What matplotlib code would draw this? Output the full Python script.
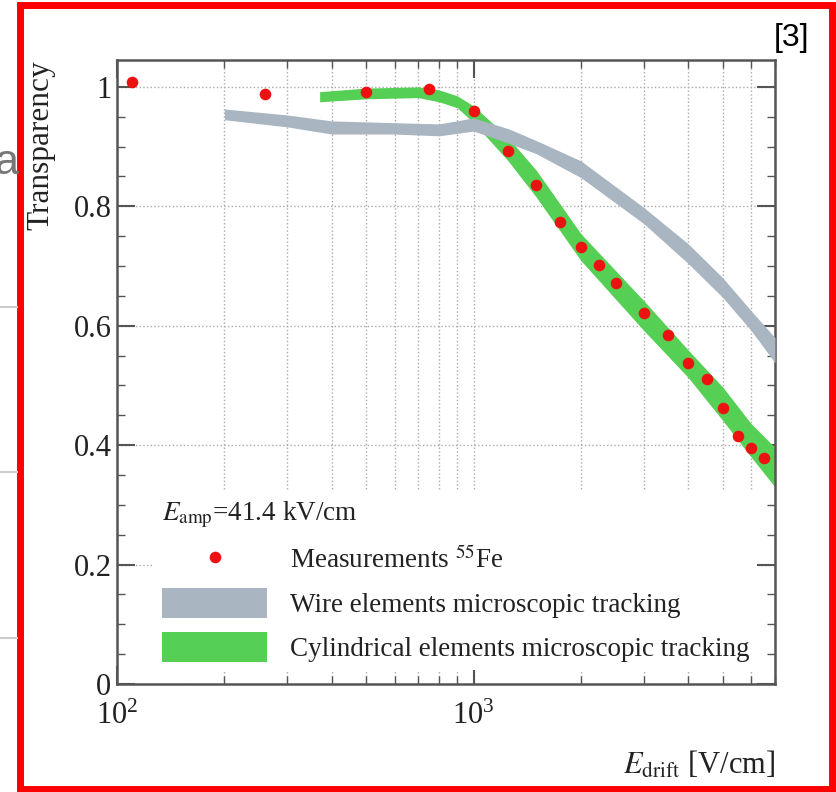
import matplotlib
matplotlib.use('Agg')
import matplotlib.pyplot as plt
from matplotlib.patches import Rectangle
from matplotlib.lines import Line2D
from matplotlib.ticker import LogLocator, NullFormatter, FixedLocator, MultipleLocator

# measurements 55Fe
meas_x = [110, 260, 500, 750, 1000, 1250, 1500, 1750, 2000, 2250, 2500,
          3000, 3500, 4000, 4500, 5000, 5500, 6000, 6500]
meas_y = [1.008, 0.988, 0.992, 0.997, 0.960, 0.893, 0.836, 0.774, 0.732,
          0.701, 0.672, 0.622, 0.584, 0.538, 0.510, 0.462, 0.415, 0.396, 0.378]

# wire elements band
wire_x = [200, 300, 400, 600, 800, 1000, 1250, 1500, 2000, 3000, 4000, 5000, 6000, 7000]
wire_lo = [0.945, 0.933, 0.921, 0.921, 0.918, 0.926, 0.906, 0.888, 0.848, 0.771, 0.704, 0.647, 0.592, 0.538]
wire_hi = [0.963, 0.953, 0.943, 0.940, 0.938, 0.948, 0.930, 0.910, 0.876, 0.798, 0.737, 0.680, 0.625, 0.580]

# cylindrical elements band
cyl_x = [370, 500, 700, 800, 900, 1000, 1250, 1500, 2000, 3000, 4000, 5000, 6000, 7000]
cyl_lo = [0.975, 0.980, 0.982, 0.975, 0.965, 0.940, 0.876, 0.815, 0.709, 0.592, 0.513, 0.441, 0.380, 0.330]
cyl_hi = [0.992, 0.998, 1.000, 0.995, 0.985, 0.968, 0.915, 0.860, 0.754, 0.642, 0.559, 0.497, 0.436, 0.396]

plt.rcParams['font.family'] = ['Liberation Serif', 'DejaVu Serif']
plt.rcParams['mathtext.fontset'] = 'stix'

fig = plt.figure(figsize=(8.36, 7.92), dpi=100)
ax = fig.add_axes([117/836, 108/792, 658/836, 624/792])

cyl = ax.fill_between(cyl_x, cyl_lo, cyl_hi, color='#55d055', lw=0,
                      label='Cylindrical elements microscopic tracking', zorder=2)
wire = ax.fill_between(wire_x, wire_lo, wire_hi, color='#a9b5c0', lw=0,
                       label='Wire elements microscopic tracking', zorder=3)
meas = ax.scatter(meas_x, meas_y, s=70, color='#ee1111', lw=0, zorder=4,
                  label=r'Measurements $^{55}$Fe')

ax.set_xscale('log')
ax.set_xlim(100, 7000)
ax.set_ylim(0, 1.045)

ax.xaxis.set_major_locator(LogLocator(base=10))
ax.xaxis.set_minor_locator(LogLocator(base=10, subs=range(2, 10)))
ax.xaxis.set_minor_formatter(NullFormatter())
ax.yaxis.set_major_locator(FixedLocator([0, 0.2, 0.4, 0.6, 0.8, 1.0]))
ax.yaxis.set_minor_locator(MultipleLocator(0.05))
ax.set_yticklabels(['0', '0.2', '0.4', '0.6', '0.8', '1'])

ax.grid(True, which='major', axis='y', ls=':', color='#aaaaaa', lw=1)
ax.grid(True, which='both', axis='x', ls=':', color='#aaaaaa', lw=1)

ax.tick_params(which='both', direction='in', top=True, right=True, colors='#555555',
               labelcolor='#222222', labelsize=22)
ax.tick_params(which='major', length=13, width=1.5)
ax.tick_params(which='minor', length=6, width=1)
ax.tick_params(axis='x', pad=13)
ax.tick_params(axis='y', pad=4)
for s in ax.spines.values():
    s.set_color('#555555')
    s.set_linewidth(1.8)

ax.set_ylabel('Transparency', fontsize=22.5, loc='top', color='#222222')
ax.yaxis.set_label_coords(-0.094, 1.0)
ax.set_xlabel(r'$E_{\rm drift}$ [V/cm]', fontsize=22, loc='right', color='#222222')
ax.xaxis.set_label_coords(1.0, -0.105)

leg = ax.legend(handles=[meas, wire, cyl], loc='lower left', bbox_to_anchor=(0.035, 0.0),
                title=r'$E_{\rm amp}$=41.4 kV/cm', title_fontsize=19.5, fontsize=19.5,
                alignment='left', frameon=True, fancybox=False, edgecolor='none',
                facecolor='white', framealpha=1, handlelength=3.9, handleheight=1.33,
                handletextpad=0.82, labelspacing=0.52, borderpad=0.3, scatterpoints=1)
for t in leg.get_texts():
    t.set_color('#222222')
leg.get_title().set_color('#222222')
leg.set_zorder(5)

# slide background bits and red frame
fig.text(-6/836, 1 - 163/792, 'a', fontsize=31, color='#777777', family='Liberation Sans',
         ha='left', va='center')
for yy in [307, 472, 638]:
    fig.add_artist(Line2D([0, 17/836], [1 - yy/792, 1 - yy/792], color='#cccccc', lw=1.5,
                          transform=fig.transFigure))
fig.text(792/836, 1 - 38/792, '[3]', fontsize=23, family='Liberation Sans',
         ha='center', va='center', color='black')
fig.add_artist(Rectangle((19.5/836, 3.5/792), 812/836, 783.5/792, fill=False,
                         edgecolor='#ff0000', lw=5.0, transform=fig.transFigure))

fig.savefig('out.png', dpi=100)
